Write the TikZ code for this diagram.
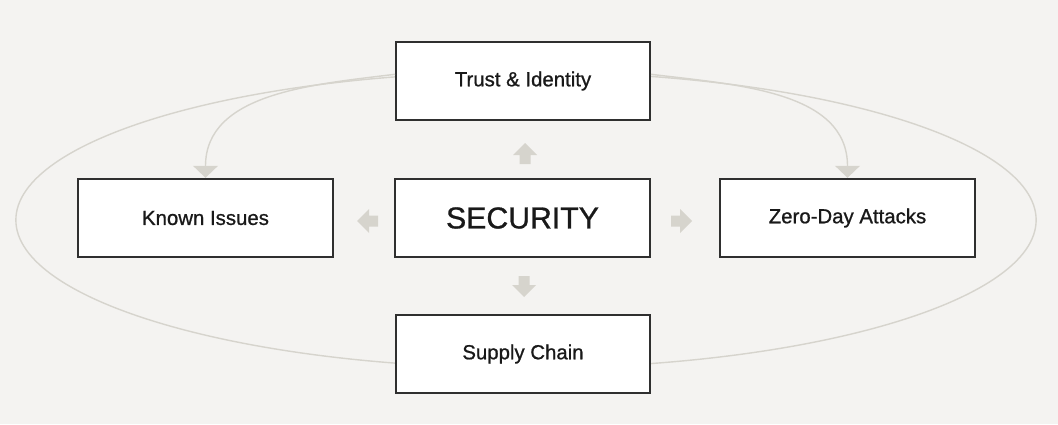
\documentclass[tikz,border=0pt]{standalone}
\usepackage{fontspec}
\setmainfont{Liberation Sans}
\newfontfamily\mediumfont{Liberation Sans}[FakeBold=0.9]
\usepackage{tikz}
\usetikzlibrary{arrows.meta}
\definecolor{bggray}{HTML}{F4F3F1}
\definecolor{linegray}{HTML}{D6D4CD}
\definecolor{boxline}{HTML}{2F2F2F}
\tikzset{every picture/.append style={x=0.025cm,y=0.025cm}}
\tikzset{box/.style={draw=boxline, line width=1.4pt, fill=white, minimum width=6.35cm, minimum height=1.96cm, inner sep=0pt, text=black!90, font=\mediumfont\fontsize{14.5}{18}\selectfont}}
\tikzset{bigbox/.style={box, font=\mediumfont\fontsize{21.5}{26}\selectfont}}
\tikzset{loopline/.style={draw=linegray, line width=1pt}}
\tikzset{flowarc/.style={loopline, -{Triangle[width=0.62cm,length=0.3cm]}}}
\tikzset{blockarrow/.pic={\fill[linegray] (-5.5,0) -- (-5.5,9) -- (-12,9) -- (0,21) -- (12,9) -- (5.5,9) -- (5.5,0) -- cycle;}}

\begin{document}
\begin{tikzpicture}
\fill[bggray] (0,0) rectangle (1058,424);
% outer loop, hidden behind the boxes
\draw[loopline] (526,204) ellipse [x radius=12.75cm, y radius=3.7cm];

\node (trust) at (523,343)[box]{Trust \& Identity};
\node (known) at (205.5,206)[box]{Known Issues};
\node (security) at (522.5,206)[bigbox]{SECURITY};
\node (zeroday) at (847.5,206)[box]{Zero-Day Attacks};
\node (supply) at (523,70)[box]{Supply Chain};

\draw[flowarc] (trust.177) to[out=187, in=90] (known.north);
\draw[flowarc] (trust.3) to[out=-7, in=90] (zeroday.north);

\pic at (525,260) {blockarrow};
\pic[rotate=180] at (524,148) {blockarrow};
\pic[rotate=90] at (378,203) {blockarrow};
\pic[rotate=-90] at (671,203) {blockarrow};
\end{tikzpicture}
\end{document}
